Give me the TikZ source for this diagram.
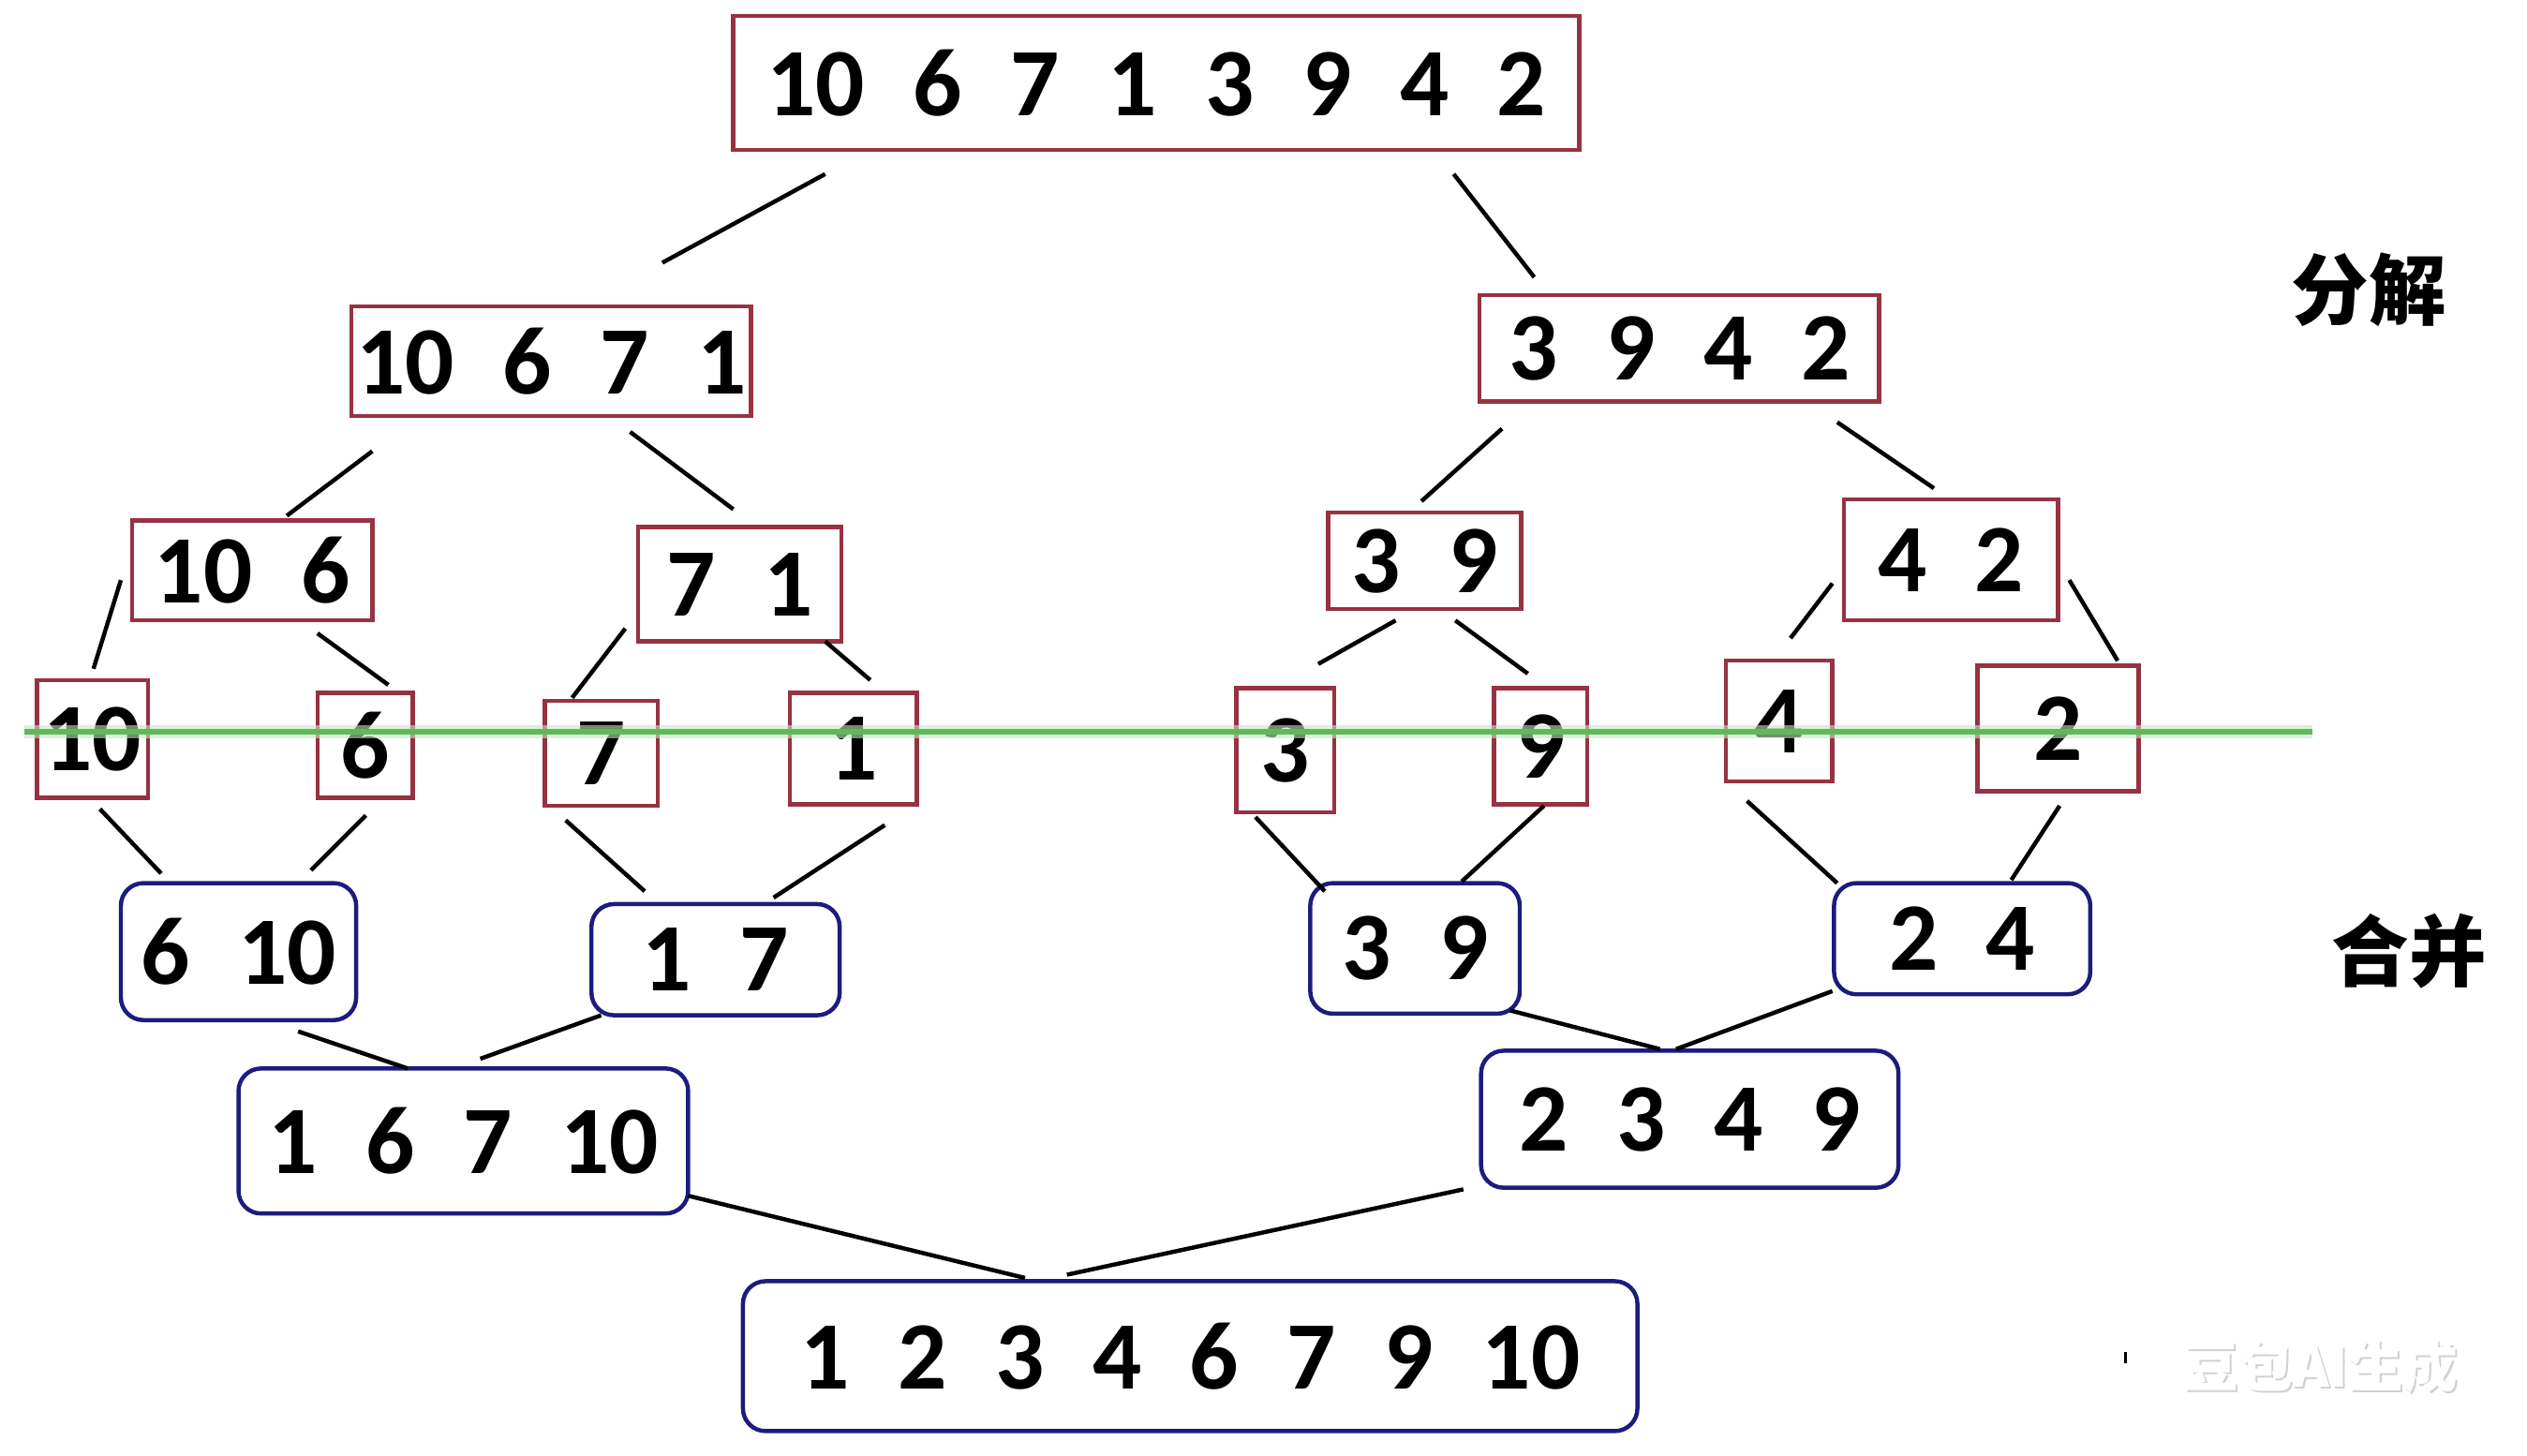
\documentclass[tikz,border=0pt]{standalone}
\usepackage{fontspec}
\setmainfont{Carlito}
\newfontfamily\cjk{Noto Sans CJK SC}
\definecolor{bred}{HTML}{963242}
\definecolor{bblue}{HTML}{1C1C7E}
\definecolor{gline}{HTML}{5DBB55}
\newcommand\gp{\hspace{0.5em}}
\newcommand\cn[4]{\draw[conn] ([shift={(#2)}]#1.center) -- ([shift={(#4)}]#3.center);}
\begin{document}
\begin{tikzpicture}[x=0.5pt,y=-0.5pt,
  num/.style={font=\fontsize{30}{30}\selectfont\bfseries, inner sep=0pt, text=black},
  rbox/.style n args={2}{num, draw=bred, line width=1.3pt, minimum width={#1*0.5pt}, minimum height={#2*0.5pt}},
  bbox/.style n args={2}{num, draw=bblue, line width=1.3pt, rounded corners=7pt, minimum width={#1*0.5pt}, minimum height={#2*0.5pt}},
  conn/.style={black, line width=1.3pt},
  lab/.style={font=\cjk\bfseries\fontsize{24}{24}\selectfont, inner sep=0pt}]
\useasboundingbox (0,0) rectangle (1568,903);
\fill[white] (0,0) rectangle (1568,903);
% split boxes
\node[rbox={525}{83}] (top) at (717.5,51.5) {10\gp 6\gp 7\gp 1\gp 3\gp 9\gp 4\gp 2};
\node[rbox={248}{68}] (L) at (342,224) {10\gp 6\gp 7\gp 1};
\node[rbox={248}{66}] (R) at (1042,216) {3\gp 9\gp 4\gp 2};
\node[rbox={149}{62}] (a106) at (156.5,354) {10\gp 6};
\node[rbox={126}{71}] (a71) at (459,362.5) {7\gp 1};
\node[rbox={120}{60}] (a39) at (884,348) {3\gp 9};
\node[rbox={133}{75}] (a42) at (1210.5,347.5) {4\gp 2};
\node[rbox={69}{73}] (s10) at (57.5,458.5) {10};
\node[rbox={59}{65}] (s6) at (226.5,462.5) {6};
\node[rbox={70}{65}] (s7) at (373,467.5) {7};
\node[rbox={79}{69}] (s1) at (529.5,464.5) {1};
\node[rbox={61}{77}] (s3) at (797.5,465.5) {3};
\node[rbox={58}{72}] (s9) at (956,463) {9};
\node[rbox={66}{75}] (s4) at (1104,447.5) {4};
\node[rbox={100}{78}] (s2) at (1277,452) {2};
% merge boxes
\node[bbox={146}{85}] (m610) at (148,590.5) {6\gp 10};
\node[bbox={154}{69}] (m17) at (444,595.5) {1\gp 7};
\node[bbox={130}{81}] (m39) at (878,588.5) {3\gp 9};
\node[bbox={159}{69}] (m24) at (1217.5,582.5) {2\gp 4};
\node[bbox={279}{90}] (m16710) at (287.5,708) {1\gp 6\gp 7\gp 10};
\node[bbox={259}{85}] (m2349) at (1048.5,694.5) {2\gp 3\gp 4\gp 9};
\node[bbox={555}{93}] (final) at (738.5,841.5) {1\gp 2\gp 3\gp 4\gp 6\gp 7\gp 9\gp 10};
% connectors
\cn{top}{-205.5,56.5}{L}{69,-61}
\cn{top}{184.5,56.5}{R}{-90,-44}
\cn{L}{-111,56}{a106}{21.5,-34}
\cn{L}{49,44}{a71}{-4,-46.5}
\cn{R}{-110,50}{a39}{-2,-37}
\cn{R}{98,46}{a42}{-10.5,-44.5}
\cn{a106}{-81.5,6}{s10}{0.5,-43.5}
\cn{a106}{40.5,39}{s6}{14.5,-37.5}
\cn{a71}{-71,27.5}{s7}{-18,-34.5}
\cn{a71}{53,35.5}{s1}{10.5,-42.5}
\cn{a39}{-18,37}{s3}{20.5,-53.5}
\cn{a39}{19,37}{s9}{-8,-45}
\cn{a42}{-73.5,14.5}{s4}{7,-51.5}
\cn{a42}{73.5,12.5}{s2}{37,-42}
\cn{s10}{4.5,43.5}{m610}{-48,-48.5}
\cn{s6}{0.5,43.5}{m610}{45,-50.5}
\cn{s7}{-22,41.5}{m17}{-44,-42.5}
\cn{s1}{19.5,47.5}{m17}{36,-38.5}
\cn{s3}{-18.5,41.5}{m39}{-56,-35.5}
\cn{s9}{2,37}{m39}{29,-41.5}
\cn{s4}{-20,49.5}{m24}{-77.5,-34.5}
\cn{s2}{1,48}{m24}{30.5,-36.5}
\cn{m610}{37,49.5}{m16710}{-34.5,-45}
\cn{m17}{-71,34.5}{m16710}{10.5,-51}
\cn{m39}{59,38.5}{m2349}{-18.5,-43.5}
\cn{m24}{-80.5,32.5}{m2349}{-8.5,-43.5}
\cn{m16710}{139.5,34}{final}{-102.5,-48.5}
\cn{m2349}{-140.5,43.5}{final}{-76.5,-50.5}
% labels
\node[lab] (fenjie) at (1470,180) {分解};
\node[lab] (hebing) at (1495,590) {合并};
% green line
\draw[gline!35, line width=4pt, opacity=0.6] (15,454) -- (1435,454);
\draw[gline, line width=1.6pt] (15,454) -- (1435,454);
% watermark
\node[font=\cjk\bfseries\fontsize{17}{17}\selectfont, text=black!18] (wm0) at (1441,849) {豆包AI生成};
\node[font=\cjk\bfseries\fontsize{17}{17}\selectfont, text=white] (wm) at (1440,848) {豆包AI生成};
\fill[black] (1318,839) rectangle (1320,846);
\end{tikzpicture}
\end{document}
